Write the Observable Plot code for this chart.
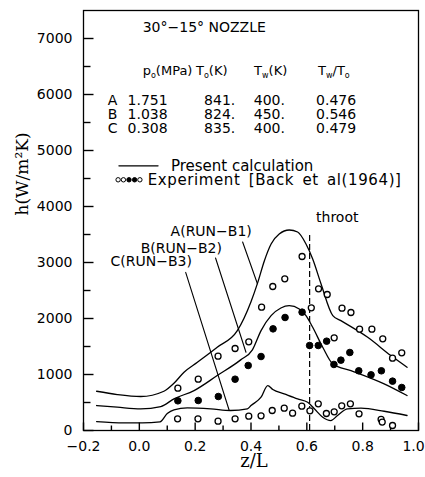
<!DOCTYPE html>
<html><head><meta charset="utf-8">
<script src="https://cdn.jsdelivr.net/npm/d3@7"></script>
<script src="https://cdn.jsdelivr.net/npm/@observablehq/plot@0.6"></script>
<style>body{margin:0;background:#fff}</style>
</head><body><div id="chart"></div>
<script>
// ---- data ----
const xMajor = [-0.2, 0.0, 0.2, 0.4, 0.6, 0.8, 1.0];
const xMinor = [-0.1, 0.1, 0.3, 0.5, 0.7, 0.9];
const yMajor = [0, 1000, 2000, 3000, 4000, 5000, 6000, 7000];
const yMinor = [500, 1500, 2500, 3500, 4500, 5500, 6500];

const calcA = [[-0.153,701],[-0.079,642],[0.005,607],[0.088,701],[0.124,844],[0.160,1040],[0.208,1218],[0.279,1486],[0.351,1783],[0.400,2300],[0.424,2640],[0.448,3032],[0.472,3330],[0.501,3508],[0.537,3580],[0.567,3544],[0.597,3330],[0.621,3062],[0.651,2616],[0.693,2051],[0.722,1962],[0.818,1664],[0.901,1338],[0.959,1129]];
const calcB = [[-0.153,446],[-0.079,416],[0.005,387],[0.077,428],[0.124,565],[0.196,713],[0.279,981],[0.363,1261],[0.405,1440],[0.436,1784],[0.472,2051],[0.507,2188],[0.537,2230],[0.573,2171],[0.597,2051],[0.621,1843],[0.657,1486],[0.693,1189],[0.758,1070],[0.877,833],[0.959,624]];
const calcC = [[-0.153,160],[-0.055,137],[0.011,137],[0.074,155],[0.100,303],[0.124,369],[0.172,405],[0.256,387],[0.327,357],[0.387,387],[0.400,446],[0.436,594],[0.460,803],[0.478,731],[0.519,654],[0.567,565],[0.603,505],[0.627,387],[0.657,238],[0.686,178],[0.710,268],[0.746,387],[0.794,398],[0.877,344],[0.959,268]];

const expA = [[0.138,755],[0.211,916],[0.282,1327],[0.343,1464],[0.392,1583],[0.438,2202],[0.478,2571],[0.521,2708],[0.583,3107],[0.616,2191],[0.642,2530],[0.673,2429],[0.698,1655],[0.726,2184],[0.758,2107],[0.789,1810],[0.833,1810],[0.872,1637],[0.907,1292],[0.940,1387]];
const expB = [[0.138,530],[0.211,536],[0.283,607],[0.343,916],[0.390,1161],[0.436,1321],[0.479,1815],[0.522,2018],[0.583,2113],[0.610,1518],[0.641,1518],[0.671,1595],[0.697,1179],[0.722,1256],[0.754,1393],[0.786,1066],[0.830,994],[0.867,1066],[0.907,881],[0.940,768]];
const expC = [[0.137,209],[0.210,209],[0.282,166],[0.343,209],[0.392,256],[0.436,262],[0.476,357],[0.519,399],[0.549,310],[0.582,435],[0.611,351],[0.641,476],[0.670,304],[0.698,333],[0.725,440],[0.756,476],[0.787,298],[0.866,200],[0.870,150],[0.907,89]];

const runs = ["A", "B", "C"];
const p0 = [1.751, 1.038, 0.308];
const T0 = [841, 824, 835];
const Tw = [400, 450, 400];
const TwT0 = [0.476, 0.546, 0.479];
const headers = ["p_o(MPa)", "T_o(K)", "T_w(K)", "T_w/T_o"];
const runLabels = ["A(RUN\u2212B1)", "B(RUN\u2212B2)", "C(RUN\u2212B3)"];
const throatZ = 0.61;
const title = "30\u00b0\u221215\u00b0 NOZZLE";
const legendLabels = ["Present calculation", "Experiment [Back et al(1964)]"];
const legendDotFilled = [false, false, true, true, false];

// ---- layout ----
const W = 425, H = 477, ML = 83, MR = 7, MT = 10, MB = 47;
const xDom = [-0.2, 1.0], yDom = [0, 7500];
const xPerPx = (xDom[1] - xDom[0]) / (W - ML - MR);
const yPerPx = (yDom[1] - yDom[0]) / (H - MT - MB);

const pts = a => a.map(([x, y]) => ({x, y}));
const rowY = [5898, 5648, 5398];
const headX = [0.012, 0.203, 0.411, 0.640];
const colX = [-0.113, -0.042, 0.232, 0.410, 0.633];
const tableRows = runs.map((r, i) => [r, p0[i].toFixed(3), T0[i] + ".", Tw[i] + ".", TwT0[i].toFixed(3)]);
const tableCells = tableRows.flatMap((row, i) => row.map((t, j) => ({x: colX[j], y: rowY[i], t})));
const headCells = headers.map((t, j) => ({x: headX[j], y: 6420, t}));
const runLabelPos = [{x: 0.112, y: 3549}, {x: 0.005, y: 3246}, {x: -0.103, y: 3014}];
const leaders = [
  [{x: 0.370, y: 3366}, {x: 0.423, y: 2621}],
  [{x: 0.273, y: 3080}, {x: 0.382, y: 1397}],
  [{x: 0.166, y: 2823}, {x: 0.322, y: 357}]
];
const legendDotX = [-0.076, -0.057, -0.037, -0.017, 0.002];
const legendDots = legendDotX.map((x, i) => ({x, y: 4477, f: legendDotFilled[i]}));

const lineOpts = {x: "x", y: "y", curve: "monotone-x", stroke: "black", strokeWidth: 1.3};
const serif = "DejaVu Serif";
const tk = {stroke: "black", strokeWidth: 1.4};
const xTickData = [...xMajor.map(v => ({v, len: 8})), ...xMinor.map(v => ({v, len: 5}))];
const yTickData = [...yMajor.map(v => ({v, len: 10})), ...yMinor.map(v => ({v, len: 7}))];

const chart = Plot.plot({
  width: W, height: H,
  marginLeft: ML, marginRight: MR, marginTop: MT, marginBottom: MB,
  x: {domain: xDom},
  y: {domain: yDom},
  style: {fontFamily: "DejaVu Sans", fontSize: "14px", color: "black", background: "white", overflow: "visible"},
  marks: [
    Plot.frame({stroke: "black", strokeWidth: 1.3}),
    // inward ticks
    Plot.link(xTickData, {x1: "v", x2: "v", y1: () => yDom[0], y2: d => yDom[0] + d.len * yPerPx, ...tk}),
    Plot.link(yTickData, {y1: "v", y2: "v", x1: () => xDom[0], x2: d => xDom[0] + d.len * xPerPx, ...tk}),
    // tick labels
    Plot.axisX(xMajor.slice(0, -1), {tickSize: 0, tickPadding: 11, tickFormat: d3.format(".1f"), label: null, fontSize: 14}),
    Plot.axisX(xMajor.slice(-1), {tickSize: 0, tickPadding: 11, tickFormat: d3.format(".1f"), label: null, fontSize: 14, dx: -5}),
    Plot.axisY(yMajor, {tickSize: 0, tickPadding: 11, tickFormat: d3.format("d"), label: null, fontSize: 14}),
    Plot.text(["h(W/m\u00b2K)"], {frameAnchor: "left", rotate: -90, dx: -61, dy: -5, fontFamily: serif, fontSize: 17}),
    Plot.text(["z/L"], {frameAnchor: "bottom", dx: 3, dy: 36, fontFamily: serif, fontSize: 18}),
    // calculations
    Plot.line(pts(calcA), lineOpts),
    Plot.line(pts(calcB), lineOpts),
    Plot.line(pts(calcC), lineOpts),
    // throat
    Plot.ruleX([throatZ], {y1: 0, y2: 3513, stroke: "black", strokeWidth: 1.2, strokeDasharray: "6,3"}),
    Plot.text(["throot"], {x: 0.633, y: 3800, textAnchor: "start", fontSize: 14}),
    // experiments
    Plot.dot(pts(expA), {x: "x", y: "y", r: 3, stroke: "black", fill: "white", strokeWidth: 1.3}),
    Plot.dot(pts(expC), {x: "x", y: "y", r: 3, stroke: "black", fill: "white", strokeWidth: 1.3}),
    Plot.dot(pts(expB), {x: "x", y: "y", r: 3.3, stroke: "black", fill: "black", strokeWidth: 1}),
    // run labels and leaders
    ...leaders.map(l => Plot.line(l, {x: "x", y: "y", stroke: "black", strokeWidth: 1.1})),
    Plot.text(runLabelPos, {x: "x", y: "y", text: (d, i) => runLabels[i], textAnchor: "start", fontSize: 14}),
    // legend
    Plot.line([{x: -0.073, y: 4726}, {x: 0.067, y: 4726}], {x: "x", y: "y", stroke: "black", strokeWidth: 1.3}),
    Plot.text([legendLabels[0]], {x: 0.113, y: 4726, textAnchor: "start", fontSize: 15}),
    Plot.dot(legendDots, {x: "x", y: "y", r: 2.2, stroke: "black", fill: d => d.f ? "black" : "white", strokeWidth: 1}),
    Plot.text([legendLabels[1]], {x: 0.030, y: 4477, textAnchor: "start", fontSize: 15}),
    // title and table
    Plot.text([title], {x: 0.012, y: 7188, textAnchor: "start", fontSize: 14}),
    Plot.text(headCells, {x: "x", y: "y", text: "t", textAnchor: "start", fontSize: 13}),
    Plot.text(tableCells, {x: "x", y: "y", text: "t", textAnchor: "start", fontSize: 14})
  ]
});

// subscripts ("_x" -> lowered small x) and spacing tweaks
d3.select(chart).selectAll("text").each(function () {
  const t = this.textContent;
  if (t.startsWith("Experiment")) { this.setAttribute("letter-spacing", "0.6"); this.setAttribute("word-spacing", "3"); }
  if (!t.includes("_")) return;
  const sel = d3.select(this);
  sel.text(null);
  let low = false;
  for (const part of t.split(/(_.)/)) {
    if (!part) continue;
    if (part[0] === "_") {
      sel.append("tspan").attr("dy", 3).attr("font-size", 8).text(part[1]);
      low = true;
    } else {
      sel.append("tspan").attr("dy", low ? -3 : 0).text(part);
      low = false;
    }
  }
});

document.getElementById("chart").append(chart);
</script></body></html>
